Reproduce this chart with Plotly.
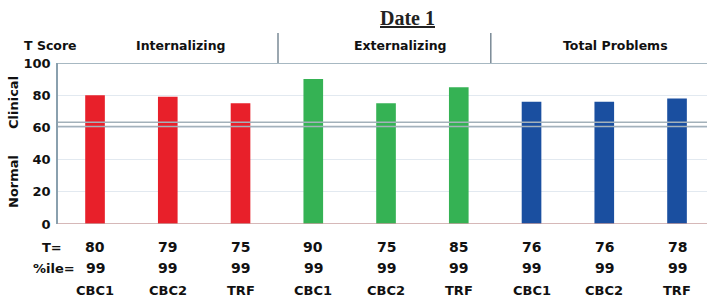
import plotly.graph_objects as go

categories = ["CBC1", "CBC2", "TRF", "CBC1", "CBC2", "TRF", "CBC1", "CBC2", "TRF"]
t_scores = [80, 79, 75, 90, 75, 85, 76, 76, 78]
percentiles = [99, 99, 99, 99, 99, 99, 99, 99, 99]
groups = ["Internalizing", "Externalizing", "Total Problems"]
group_colors = ["#E8202A", "#35B254", "#1A4FA0"]
y_ticks = [0, 20, 40, 60, 80, 100]

W, H = 707, 303
L, T, B = 58, 63, 79
plot_h = H - T - B

def py(p):
    return (H - B - p) / plot_h

def px(p):
    return (p - L) / (W - L)

xs = list(range(len(categories)))
colors = [group_colors[i // 3] for i in xs]

fig = go.Figure()
fig.add_trace(go.Bar(x=xs, y=t_scores, marker=dict(color=colors, line=dict(width=0)),
                     width=0.27, showlegend=False))

TF = "DejaVu Sans"
fig.update_layout(
    width=W, height=H, margin=dict(l=L, r=0, t=T, b=B),
    paper_bgcolor="white", plot_bgcolor="white",
    xaxis=dict(range=[-0.509, 8.412], showticklabels=False, showgrid=False,
               zeroline=False, showline=False, fixedrange=True),
    yaxis=dict(range=[0, 100], tickvals=y_ticks, showgrid=True, gridcolor="#E2E9F0",
               gridwidth=1, zeroline=False, showline=True, linecolor="#8AA0AE", linewidth=1.5,
               tickfont=dict(family=TF, size=13, color="#111", weight="bold"),
               ticks="", ticklabelstandoff=3, automargin=False),
)

# 60 double line
for v in [60.6, 63.2]:
    fig.add_shape(type="line", xref="paper", yref="y", x0=0, x1=1, y0=v, y1=v,
                  line=dict(color="#A3B1BA", width=1.5))
# bottom axis line
fig.add_shape(type="line", xref="paper", yref="y", x0=0, x1=1, y0=0, y1=0,
              line=dict(color="#C8A0A0", width=1.5))
# top line
fig.add_shape(type="line", xref="paper", yref="y", x0=0, x1=1, y0=100, y1=100,
              line=dict(color="#8AA0AE", width=1.5))
# header separators
for sx in [2.515, 5.44]:
    fig.add_shape(type="line", xref="x", yref="paper", x0=sx, x1=sx, y0=1, y1=py(33),
                  line=dict(color="#7A8A96", width=1.5))

def ann(text, x, y, xref="paper", size=13, angle=0, family=TF, color="#111"):
    fig.add_annotation(text=text, x=x, xref=xref, y=y, yref="paper", showarrow=False,
                       xanchor="center", yanchor="middle", textangle=angle,
                       font=dict(family=family, size=size, color=color, weight="bold"))

hx = [1.17, 4.2, 7.15]
for g, x in zip(groups, hx):
    ann(g, x, py(45), xref="x", size=12.5)
ann("T Score", px(50), py(45), size=12.5)
ann("<u>Date 1</u>", px(407), py(18), size=20, family="Liberation Serif", color="#222")
ann("Clinical", px(13), py(103), angle=-90)
ann("Normal", px(13), py(182), angle=-90)
ann("T=", px(52), py(247))
ann("%ile=", px(54), py(268))
for i in xs:
    ann(str(t_scores[i]), i, py(247), xref="x", size=14)
    ann(str(percentiles[i]), i, py(268), xref="x", size=14)
    ann(categories[i], i, py(290), xref="x", size=13)

fig.write_html("out.html", config={"displayModeBar": False},
               post_script="document.body.style.margin='0';")
